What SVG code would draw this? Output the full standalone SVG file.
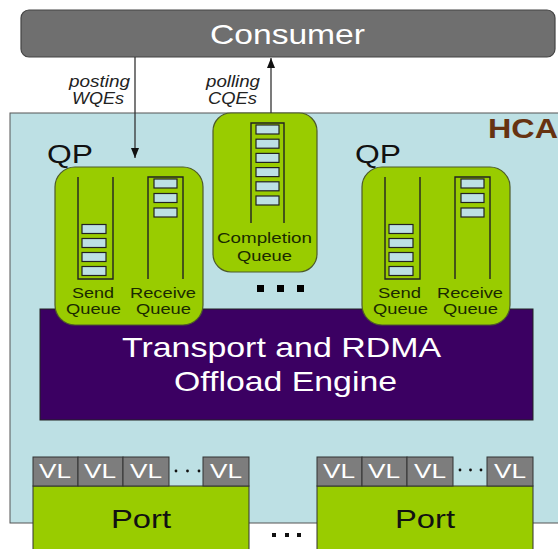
<svg xmlns="http://www.w3.org/2000/svg" width="558" height="549" viewBox="0 0 558 549">
  <defs>
    <marker id="arr" viewBox="0 0 10 10" refX="10" refY="5" markerWidth="10" markerHeight="10" markerUnits="userSpaceOnUse" orient="auto">
      <path d="M0,1 L10,5 L0,9 Z" fill="#111"/>
    </marker>
    <style>
      text { font-family: "Liberation Sans", Arial, sans-serif; }
      .green { fill: #99cc00; stroke: #4d5a2a; stroke-width: 1.2; }
      .slot { fill: #bde0e4; stroke: #222; stroke-width: 1.2; }
      .col { fill: none; stroke: #222; stroke-width: 1.4; }
      .lbl { font-size: 15.5px; fill: #1a2a00; }
      .vl { fill: #7d7d7d; stroke: #333; stroke-width: 1; }
      .vlt { font-size: 21px; fill: #ffffff; }
      .port { fill: #99cc00; stroke: #333; stroke-width: 1; }
      .portt { font-size: 25px; fill: #111; }
      .it { font-size: 16.5px; font-style: italic; fill: #222; }
      .qp { font-size: 26px; fill: #111; }
    </style>
  </defs>
  <rect width="558" height="549" fill="#ffffff"/>

  <g id="hca">
    <rect x="10" y="113" width="560" height="410" fill="#bde0e4" stroke="#555" stroke-width="1"/>
    <text x="488" y="138" font-size="28" font-weight="bold" fill="#663311" textLength="70" lengthAdjust="spacingAndGlyphs">HCA</text>
  </g>

  <g id="consumer">
    <rect x="21" y="10" width="534" height="47" rx="8" fill="#6f6f6f" stroke="#444" stroke-width="1.2"/>
    <text x="210" y="44" font-size="28" fill="#ffffff" textLength="155" lengthAdjust="spacingAndGlyphs">Consumer</text>
  </g>

  <g id="engine">
    <rect x="40" y="309" width="493" height="111" fill="#3b0062" stroke="#222" stroke-width="1"/>
    <text x="122" y="357" font-size="28" fill="#ffffff" textLength="319" lengthAdjust="spacingAndGlyphs">Transport and RDMA</text>
    <text x="174" y="391" font-size="28" fill="#ffffff" textLength="223" lengthAdjust="spacingAndGlyphs">Offload Engine</text>
  </g>

  <g id="qp1">
    <text class="qp" x="47" y="163" textLength="46" lengthAdjust="spacingAndGlyphs">QP</text>
    <rect class="green" x="55" y="167" width="148" height="158" rx="20"/>
    <path class="col" d="M78,177 V279 H113 V177"/>
    <rect class="slot" x="82" y="224.5" width="24" height="9"/>
    <rect class="slot" x="82" y="238.5" width="24" height="9"/>
    <rect class="slot" x="82" y="252.5" width="24" height="9"/>
    <rect class="slot" x="82" y="266.5" width="24" height="9"/>
    <path class="col" d="M148,279 V177 H183 V279"/>
    <rect class="slot" x="154" y="179" width="23" height="9"/>
    <rect class="slot" x="154" y="193.5" width="23" height="9"/>
    <rect class="slot" x="154" y="208" width="23" height="9"/>
    <text class="lbl" x="72" y="298" textLength="42" lengthAdjust="spacingAndGlyphs">Send</text>
    <text class="lbl" x="66" y="314" textLength="55" lengthAdjust="spacingAndGlyphs">Queue</text>
    <text class="lbl" x="130" y="298" textLength="66" lengthAdjust="spacingAndGlyphs">Receive</text>
    <text class="lbl" x="136" y="314" textLength="55" lengthAdjust="spacingAndGlyphs">Queue</text>
  </g>

  <g id="qp2">
    <text class="qp" x="355" y="163" textLength="46" lengthAdjust="spacingAndGlyphs">QP</text>
    <rect class="green" x="362" y="167" width="148" height="158" rx="20"/>
    <path class="col" d="M385,177 V279 H420 V177"/>
    <rect class="slot" x="389" y="224.5" width="24" height="9"/>
    <rect class="slot" x="389" y="238.5" width="24" height="9"/>
    <rect class="slot" x="389" y="252.5" width="24" height="9"/>
    <rect class="slot" x="389" y="266.5" width="24" height="9"/>
    <path class="col" d="M455,279 V177 H490 V279"/>
    <rect class="slot" x="461" y="179" width="23" height="9"/>
    <rect class="slot" x="461" y="193.5" width="23" height="9"/>
    <rect class="slot" x="461" y="208" width="23" height="9"/>
    <text class="lbl" x="378" y="298" textLength="43" lengthAdjust="spacingAndGlyphs">Send</text>
    <text class="lbl" x="373" y="314" textLength="55" lengthAdjust="spacingAndGlyphs">Queue</text>
    <text class="lbl" x="437" y="298" textLength="66" lengthAdjust="spacingAndGlyphs">Receive</text>
    <text class="lbl" x="443" y="314" textLength="55" lengthAdjust="spacingAndGlyphs">Queue</text>
  </g>

  <g id="cq">
    <rect class="green" x="213" y="113" width="104" height="159" rx="18"/>
    <path class="col" d="M251,223 V123 H284 V223"/>
    <rect class="slot" x="256" y="125" width="23" height="9"/>
    <rect class="slot" x="256" y="139.2" width="23" height="9"/>
    <rect class="slot" x="256" y="153.4" width="23" height="9"/>
    <rect class="slot" x="256" y="167.6" width="23" height="9"/>
    <rect class="slot" x="256" y="181.8" width="23" height="9"/>
    <rect class="slot" x="256" y="196" width="23" height="9"/>
    <text class="lbl" x="217" y="243" textLength="95" lengthAdjust="spacingAndGlyphs">Completion</text>
    <text class="lbl" x="237" y="261" textLength="55" lengthAdjust="spacingAndGlyphs">Queue</text>
  </g>

  <g id="qp-ellipsis" fill="#000">
    <rect x="257" y="285" width="7" height="7"/>
    <rect x="277" y="285" width="7" height="7"/>
    <rect x="297" y="285" width="7" height="7"/>
  </g>

  <g id="port1">
    <rect class="port" x="33" y="486" width="216" height="70"/>
    <text class="portt" x="111" y="528" textLength="60" lengthAdjust="spacingAndGlyphs">Port</text>
    <rect class="vl" x="33" y="457" width="45" height="29"/>
    <rect class="vl" x="78" y="457" width="45" height="29"/>
    <rect class="vl" x="123" y="457" width="46" height="29"/>
    <rect class="vl" x="203" y="457" width="46" height="29"/>
    <text class="vlt" x="39" y="478" textLength="32" lengthAdjust="spacingAndGlyphs">VL</text>
    <text class="vlt" x="84" y="478" textLength="32" lengthAdjust="spacingAndGlyphs">VL</text>
    <text class="vlt" x="130" y="478" textLength="32" lengthAdjust="spacingAndGlyphs">VL</text>
    <text class="vlt" x="210" y="478" textLength="32" lengthAdjust="spacingAndGlyphs">VL</text>
    <g fill="#111">
      <circle cx="176" cy="471" r="1.4"/>
      <circle cx="187.5" cy="471" r="1.4"/>
      <circle cx="199" cy="471" r="1.4"/>
    </g>
  </g>

  <g id="port2">
    <rect class="port" x="317" y="486" width="216" height="70"/>
    <text class="portt" x="395" y="528" textLength="60" lengthAdjust="spacingAndGlyphs">Port</text>
    <rect class="vl" x="317" y="457" width="45" height="29"/>
    <rect class="vl" x="362" y="457" width="45" height="29"/>
    <rect class="vl" x="407" y="457" width="46" height="29"/>
    <rect class="vl" x="487" y="457" width="46" height="29"/>
    <text class="vlt" x="323" y="478" textLength="32" lengthAdjust="spacingAndGlyphs">VL</text>
    <text class="vlt" x="368" y="478" textLength="32" lengthAdjust="spacingAndGlyphs">VL</text>
    <text class="vlt" x="414" y="478" textLength="32" lengthAdjust="spacingAndGlyphs">VL</text>
    <text class="vlt" x="494" y="478" textLength="32" lengthAdjust="spacingAndGlyphs">VL</text>
    <g fill="#111">
      <circle cx="460" cy="470" r="1.4"/>
      <circle cx="470.5" cy="470" r="1.4"/>
      <circle cx="481" cy="470" r="1.4"/>
    </g>
  </g>

  <g id="port-ellipsis" fill="#111">
    <rect x="272" y="533" width="4" height="4"/>
    <rect x="285" y="533" width="4" height="4"/>
    <rect x="297" y="533" width="4" height="4"/>
  </g>

  <g id="connectors" stroke="#333" stroke-width="1.3" fill="none">
    <line x1="135" y1="57" x2="135" y2="158" marker-end="url(#arr)"/>
    <line x1="271" y1="113" x2="271" y2="58" marker-end="url(#arr)"/>
  </g>

  <g id="connector-labels">
    <text class="it" x="69" y="87" textLength="61" lengthAdjust="spacingAndGlyphs">posting</text>
    <text class="it" x="72" y="104" textLength="52" lengthAdjust="spacingAndGlyphs">WQEs</text>
    <text class="it" x="206" y="87" textLength="54" lengthAdjust="spacingAndGlyphs">polling</text>
    <text class="it" x="208" y="104" textLength="49" lengthAdjust="spacingAndGlyphs">CQEs</text>
  </g>
</svg>
